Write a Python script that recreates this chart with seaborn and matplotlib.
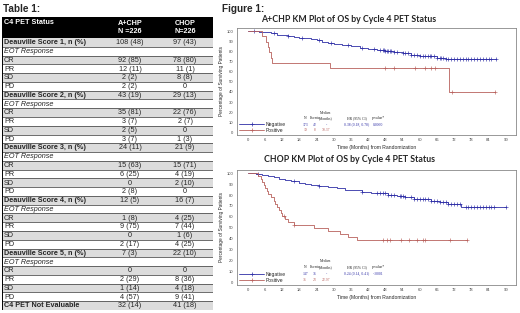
import numpy as np
import pandas as pd
import matplotlib
matplotlib.use("Agg")
import matplotlib.pyplot as plt
from matplotlib.lines import Line2D
from matplotlib.patches import Rectangle
import seaborn as sns

sns.set_style("white")
plt.rcParams['font.family'] = ['Liberation Sans', 'DejaVu Sans']

# ---------------- table data ----------------
score_labels = ["Deauville Score 1, n (%)", "Deauville Score 2, n (%)", "Deauville Score 3, n (%)",
                "Deauville Score 4, n (%)", "Deauville Score 5, n (%)"]
resp_labels = ["CR", "PR", "SD", "PD"]
achp_score = ["108 (48)", "43 (19)", "24 (11)", "12 (5)", "7 (3)"]
chop_score = ["97 (43)", "29 (13)", "21 (9)", "16 (7)", "22 (10)"]
achp_resp = [["92 (85)", "12 (11)", "2 (2)", "2 (2)"],
             ["35 (81)", "3 (7)", "2 (5)", "3 (7)"],
             ["15 (63)", "6 (25)", "0", "2 (8)"],
             ["1 (8)", "9 (75)", "0", "2 (17)"],
             ["0", "2 (29)", "1 (14)", "4 (57)"]]
chop_resp = [["78 (80)", "11 (1)", "8 (8)", "0"],
             ["22 (76)", "2 (7)", "0", "1 (3)"],
             ["15 (71)", "4 (19)", "2 (10)", "0"],
             ["4 (25)", "7 (44)", "1 (6)", "4 (25)"],
             ["0", "8 (36)", "4 (18)", "9 (41)"]]
not_eval = ["C4 PET Not Evaluable", "32 (14)", "41 (18)"]
col_heads = ["C4 PET Status", "A+CHP\nN =226", "CHOP\nN=226"]

# ---------------- KM data (months, % surviving) ----------------
x_ticks = list(range(0, 91, 6))
y_ticks = list(range(0, 101, 10))

achp_neg_t = [0, 4, 6, 8, 10, 12, 14, 16, 18, 20, 22, 24, 26, 28, 30, 33, 36, 39, 42, 45,
              48, 51, 54, 57, 60, 63, 66, 69, 86.5]
achp_neg_s = [100, 99.4, 98.8, 97.7, 96.5, 95.9, 95.3, 94.2, 93.6, 93.0, 91.9, 90.7, 89.6, 88.4,
              87.3, 86.1, 84.9, 83.2, 82.0, 81.4, 80.2, 79.0, 77.9, 76.7, 75.5, 74.9, 73.7, 72.8, 72.8]
achp_neg_c = [2, 9, 14, 19, 25, 29, 35, 40, 44, 46, 47, 47.5, 48, 48.5, 49, 49.5, 50, 51, 52,
              54, 55, 56, 57, 58, 59, 60, 61, 62, 63, 63.5, 64, 65, 66, 67, 67.5, 68, 69, 70,
              71, 72, 73, 74, 75, 76, 77, 78, 79, 80, 81, 82, 83, 84, 85, 86.5]
achp_pos_t = [0, 5, 6.3, 7, 7.5, 8, 8.5, 28.5, 70.37, 86.4]
achp_pos_s = [100, 94.7, 89.5, 84.2, 78.9, 73.7, 68.4, 63.2, 40.0, 40.0]
achp_pos_c = [48, 51, 58.2, 61.7, 64, 65.2, 71.3, 86.4]

chop_neg_t = [0, 3, 5, 7, 9, 11, 13, 15, 18, 20, 22, 25, 28, 31, 34, 37, 40, 43, 46, 49,
              52, 55, 58, 61, 64, 67, 70, 74.5, 90]
chop_neg_s = [100, 99.3, 98.6, 97.3, 96.6, 95.2, 93.9, 92.5, 91.2, 89.8, 89.1, 88.4, 87.1, 86.4,
              85.0, 84.3, 83.0, 82.3, 81.6, 80.2, 79.5, 78.2, 76.8, 76.1, 74.7, 73.4, 72.0, 69.0, 69.0]
chop_neg_c = [3.5, 16, 25, 40, 45, 46, 47, 48, 49, 50, 51, 53, 53.5, 54, 55, 57, 58, 59, 60,
              61, 62, 63, 64, 65, 66, 67, 68, 69, 70, 71, 72, 73, 74, 76, 77, 78, 79, 80, 81,
              82, 83, 84, 85, 86, 90]
chop_pos_t = [0, 3.5, 4.5, 5, 5.5, 6, 6.5, 7, 8, 9, 9.5, 10, 11, 11.5, 12, 13, 14, 16, 22.97,
              28, 32, 35, 38, 76.5]
chop_pos_s = [100, 97.2, 94.4, 91.7, 88.9, 86.1, 83.3, 80.6, 77.8, 75.0, 72.2, 69.4, 66.7,
              63.9, 61.1, 58.3, 55.6, 52.8, 50.0, 47.2, 44.4, 41.7, 38.9, 38.9]
chop_pos_c = [12.5, 16, 47, 48.7, 49.6, 53.3, 56.2, 58.9, 61.2, 61.7, 70.7, 76.5]

stat_heads = ["N", "Events", "(Months)", "HR (95% CI)", "p-value*"]
achp_stats = [["173", "42", "-", "0.38 (0.18, 0.78)", "0.0060"], ["19", "8", "70.37", "", ""]]
chop_stats = [["147", "36", "-", "0.24 (0.14, 0.41)", "<.0001"], ["36", "23", "22.97", "", ""]]

BLUE = "#2e2ea6"
RED = "#b8605c"

W, H = 520, 313
fig = plt.figure(figsize=(5.2, 3.13), dpi=100)


def fx(px):
    return px / W


def fy(py):
    return 1 - py / H


fig.text(fx(3), fy(9), "Table 1:", fontsize=7.2, fontweight="bold", va="center")
fig.text(fx(222), fy(9), "Figure 1:", fontsize=7.2, fontweight="bold", va="center")

# ---------------- table ----------------
tl, tr, tt, tb = 2, 213, 17, 310
tab = fig.add_axes([fx(tl), fy(tb), fx(tr - tl), (tb - tt) / H])
tab.set_xlim(0, tr - tl)
tab.set_ylim(tb - tt, 0)
tab.axis("off")

rows = []
for i in range(5):
    rows.append((score_labels[i], achp_score[i], chop_score[i], "bold"))
    rows.append(("EOT Response", "", "", "italic"))
    for j in range(4):
        rows.append((resp_labels[j], achp_resp[i][j], chop_resp[i][j], "normal"))
rows.append((not_eval[0], not_eval[1], not_eval[2], "bold"))

wid = tr - tl
hh = 21
rh = (tb - tt - hh) / len(rows)
c1, c2 = 128, 183
fs = 5.2
tab.add_patch(Rectangle((0, 0), wid, hh, color="black"))
tab.text(2, 5.5, col_heads[0], color="white", fontsize=fs, fontweight="bold", va="center")
tab.text(c1, 10.5, col_heads[1], color="white", fontsize=fs, fontweight="bold",
         va="center", ha="center", linespacing=1.35)
tab.text(c2, 10.5, col_heads[2], color="white", fontsize=fs, fontweight="bold",
         va="center", ha="center", linespacing=1.35)
for k, (lab, a, b, kind) in enumerate(rows):
    y0 = hh + k * rh
    if k % 2 == 0:
        tab.add_patch(Rectangle((0, y0), wid, rh, color="#dcdcdc", lw=0))
    tab.plot([0, wid], [y0 + rh, y0 + rh], color="#333333", lw=0.5)
    style = "italic" if kind == "italic" else "normal"
    weight = "bold" if kind == "bold" else "normal"
    tab.text(2, y0 + rh / 2 + 0.3, lab, fontsize=fs, fontweight=weight, fontstyle=style, va="center")
    tab.text(c1, y0 + rh / 2 + 0.3, a, fontsize=fs, va="center", ha="center")
    tab.text(c2, y0 + rh / 2 + 0.3, b, fontsize=fs, va="center", ha="center")
tab.plot([0.3, 0.3], [0, tb - tt], color="black", lw=0.7)
tab.plot([wid - 0.3, wid - 0.3], [0, tb - tt], color="black", lw=0.7)
tab.plot([0, wid], [tb - tt - 0.3, tb - tt - 0.3], color="black", lw=0.7)


# ---------------- KM panels ----------------
def km_panel(top, bottom, title, title_y, curves, stats):
    ax = fig.add_axes([fx(237), fy(bottom), fx(516 - 237), (bottom - top) / H])
    for t, s, c, color in curves:
        df = pd.DataFrame({"t": t, "s": s})
        sns.lineplot(data=df, x="t", y="s", drawstyle="steps-post", color=color, lw=0.6,
                     estimator=None, sort=False, ax=ax)
        cy = np.asarray(s)[np.searchsorted(t, c, side="right") - 1]
        sns.scatterplot(x=c, y=cy, marker="+", color=color, s=6, linewidth=0.45, ax=ax)
    ax.set_xlim(-3.8, 93.6)
    ax.set_ylim(-2.5, 103)
    ax.set_xticks(x_ticks)
    ax.set_yticks(y_ticks)
    ax.tick_params(labelsize=3, length=1.5, width=0.4, pad=1, direction="out", colors="#444444")
    for sp in ax.spines.values():
        sp.set_color("#888888")
        sp.set_linewidth(0.6)
    ax.set_xlabel("Time (Months) from Randomization", fontsize=3.6, labelpad=1.5)
    ax.set_ylabel("Percentage of Surviving Patients", fontsize=3.4, labelpad=2)
    fig.text(fx(349), fy(title_y), title, fontsize=6.3, fontweight="bold",
             family=["Lato", "DejaVu Sans"], ha="center", va="center")

    handles = [Line2D([], [], color=BLUE, lw=0.6, marker="+", ms=2.5, mew=0.5),
               Line2D([], [], color=RED, lw=0.6, marker="+", ms=2.5, mew=0.5)]
    ax.legend(handles, ["Negative", "Positive"], loc="lower left", fontsize=3.6, frameon=False,
              handlelength=5, labelspacing=0.25, borderaxespad=0.2, borderpad=0.2,
              handletextpad=0.4)

    sx = [20, 23.3, 27.3, 38, 45.5]
    fam = ["Liberation Serif", "DejaVu Serif"]
    ax.text(sx[2], 19.5, "Median", fontsize=2.7, ha="center", va="center", family=fam)
    for xx, h in zip(sx, stat_heads):
        ax.text(xx, 14, h, fontsize=2.7, ha="center", va="center", family=fam)
    for vals, yy, color in zip(stats, [7.5, 2], [BLUE, RED]):
        for xx, v in zip(sx, vals):
            ax.text(xx, yy, v, fontsize=2.7, ha="center", va="center", family=fam, color=color)
    return ax


km_panel(28, 135, "A+CHP KM Plot of OS by Cycle 4 PET Status", 19,
         [(achp_neg_t, achp_neg_s, achp_neg_c, BLUE), (achp_pos_t, achp_pos_s, achp_pos_c, RED)],
         achp_stats)
km_panel(170, 285, "CHOP KM Plot of OS by Cycle 4 PET Status", 159,
         [(chop_neg_t, chop_neg_s, chop_neg_c, BLUE), (chop_pos_t, chop_pos_s, chop_pos_c, RED)],
         chop_stats)

fig.savefig("out.png", dpi=100)
